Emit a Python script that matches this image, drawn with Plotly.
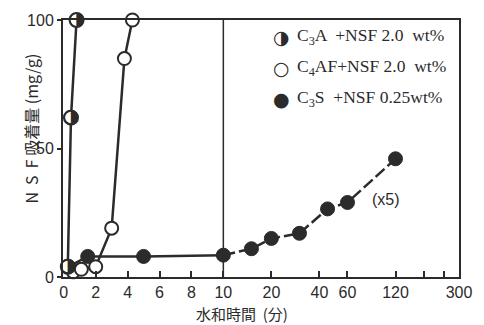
import math
import plotly.graph_objects as go

# ---- data (time in minutes, NSF adsorbed mg/g) ----
c3a_t = [0.25, 0.45, 0.8]
c3a_v = [4, 62, 100]

c4af_t = [0.6, 1.1, 2.0, 3.0, 3.8, 4.3]
c4af_v = [2, 3, 4, 19, 85, 100]

c3s_t = [0.3, 1.5, 5, 10, 15, 20, 30, 45, 60, 120]
c3s_v = [4, 8, 8, 8.5, 11, 15, 17, 26.5, 29, 46]

tick_vals = [0, 2, 4, 6, 8, 10, 20, 40, 60, 120, 180, 240, 300]
tick_text = ["0", "2", "4", "6", "8", "10", "20", "40", "60", "120", "", "", "300"]


def tx(t):
    # linear 0-10, logarithmic 10-300 (10 units per decade)
    return t if t <= 10 else 10 + 10 * math.log10(t / 10)


def txs(ts):
    return [tx(t) for t in ts]


INK = "#2b2b2b"
fig = go.Figure()

# C3S lines: solid to 10 min, dashed beyond
n10 = c3s_t.index(10)
fig.add_trace(go.Scatter(x=txs(c3s_t[:n10 + 1]), y=c3s_v[:n10 + 1], mode="lines",
                         line=dict(color=INK, width=2.5), showlegend=False, hoverinfo="skip"))
fig.add_trace(go.Scatter(x=txs(c3s_t[n10:]), y=c3s_v[n10:], mode="lines",
                         line=dict(color=INK, width=2.5, dash="12px,4px"), showlegend=False,
                         hoverinfo="skip"))
# C4AF line
fig.add_trace(go.Scatter(x=txs(c4af_t), y=c4af_v, mode="lines",
                         line=dict(color=INK, width=2.5), showlegend=False, hoverinfo="skip"))
# C3A line
fig.add_trace(go.Scatter(x=txs(c3a_t), y=c3a_v, mode="lines",
                         line=dict(color=INK, width=2.5), showlegend=False, hoverinfo="skip"))

# markers
fig.add_trace(go.Scatter(x=txs(c3s_t), y=c3s_v, mode="markers",
                         marker=dict(symbol="circle", size=14, color=INK,
                                     line=dict(color=INK, width=1)),
                         showlegend=False))
fig.add_trace(go.Scatter(x=txs(c4af_t), y=c4af_v, mode="markers",
                         marker=dict(symbol="circle", size=13, color="white",
                                     line=dict(color=INK, width=2)),
                         showlegend=False))
fig.add_trace(go.Scatter(x=txs(c3a_t), y=c3a_v, mode="markers",
                         marker=dict(symbol="circle", size=14, color="white",
                                     line=dict(color=INK, width=2)),
                         showlegend=False))
fig.add_trace(go.Scatter(x=txs(c3a_t), y=c3a_v, mode="text", text=["◑"] * len(c3a_t),
                         textposition="middle center",
                         textfont=dict(family="DejaVu Sans", size=19, color=INK),
                         showlegend=False))
fig.update_traces(cliponaxis=False)

# divider at 10 min
fig.add_shape(type="line", x0=10, x1=10, y0=0, y1=1, xref="x", yref="paper",
              line=dict(color=INK, width=1.5))

# legend (as text)
leg_font = dict(family="Liberation Serif", size=17.5, color=INK)
legend_items = [
    ("◑", "C<sub>3</sub>A  +NSF 2.0  wt%"),
    ("○", "C<sub>4</sub>AF+NSF 2.0  wt%"),
    ("●", "C<sub>3</sub>S  +NSF 0.25wt%"),
]
for i, (sym, lab) in enumerate(legend_items):
    ypix = 33 + i * 31.5
    yp = 1 - (ypix - 16) / 261
    fig.add_annotation(x=(285 - 63) / 403, y=yp, xref="paper", yref="paper",
                       text=sym, showarrow=False, xanchor="center", yanchor="middle",
                       font=dict(family="DejaVu Sans", size=19, color=INK))
    fig.add_annotation(x=(299 - 63) / 403, y=yp, xref="paper", yref="paper",
                       text=lab, showarrow=False, xanchor="left", yanchor="middle",
                       font=leg_font)

fig.add_annotation(x=tx(105), y=30, xref="x", yref="y", text="(x5)", showarrow=False,
                   font=dict(family="Liberation Sans", size=16, color=INK))

# axis titles
fig.add_annotation(x=-47 / 403, y=0.5 + 20 / 261, xref="paper", yref="paper",
                   text="N  S  F 吸着量 (mg/g)", textangle=-90, showarrow=False,
                   font=dict(family="Noto Sans CJK JP", size=16, color=INK))
fig.add_annotation(x=(245 - 63) / 403, y=-(314 - 277) / 261, xref="paper", yref="paper",
                   text="水和時間  (分)", showarrow=False, yanchor="middle",
                   font=dict(family="Noto Sans CJK JP", size=15, color=INK))

fig.update_xaxes(range=[-0.05, tx(300)], tickvals=txs(tick_vals), ticktext=tick_text,
                 ticks="inside", ticklen=6, tickwidth=1.5, tickcolor=INK,
                 showline=True, linecolor=INK, linewidth=2, mirror=True,
                 showgrid=False, zeroline=False,
                 tickfont=dict(family="Liberation Sans", size=16, color=INK))
fig.update_yaxes(range=[0, 100], tickvals=[0, 50, 100],
                 ticks="outside", ticklen=4, tickwidth=1.5, tickcolor=INK,
                 showline=True, linecolor=INK, linewidth=2, mirror=True,
                 showgrid=False, zeroline=False,
                 tickfont=dict(family="Liberation Sans", size=16, color=INK))

fig.update_layout(width=484, height=325, margin=dict(l=63, r=18, t=16, b=48),
                  paper_bgcolor="white", plot_bgcolor="white", showlegend=False)

fig.write_html("out.html", config={"displayModeBar": False},
               post_script="document.body.style.margin='0';document.body.style.overflow='hidden';")
